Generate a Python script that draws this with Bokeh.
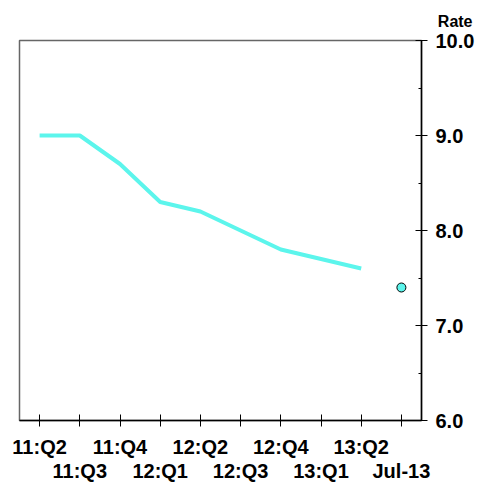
from bokeh.plotting import figure
from bokeh.models import LinearAxis, FixedTicker, Range1d, Title
from bokeh.embed import file_html
from bokeh.resources import INLINE

periods = ["11:Q2", "11:Q3", "11:Q4", "12:Q1", "12:Q2", "12:Q3", "12:Q4", "13:Q1", "13:Q2", "Jul-13"]
rate_quarterly = [9.0, 9.0, 8.7, 8.3, 8.2, 8.0, 7.8, 7.7, 7.6]
rate_latest = [7.4]
y_ticks = [6.0, 7.0, 8.0, 9.0, 10.0]
y_minor = [6.5, 7.5, 8.5, 9.5]

xs = list(range(len(periods)))
FONT = "Liberation Sans"
COLOR = "#5CF5EC"

p = figure(width=479, height=484, frame_width=402, output_backend="svg", toolbar_location=None,
           x_range=Range1d(-0.5, len(periods) - 0.5), y_range=Range1d(6.0, 10.0),
           x_axis_location=None, y_axis_location="right",
           min_border_left=19, min_border_top=40, min_border_right=58, min_border_bottom=0)
p.grid.visible = False
p.outline_line_color = "#666666"
p.outline_line_width = 1.5
p.background_fill_color = "white"
p.border_fill_color = "white"

p.add_layout(Title(text="Rate", align="right", offset=-51, standoff=21,
                   text_font=FONT, text_font_style="bold", text_font_size="16px",
                   text_color="black"), "above")

ya = p.yaxis[0]
ya.ticker = FixedTicker(ticks=y_ticks, minor_ticks=y_minor)
ya.major_label_overrides = {t: f"{t:.1f}" for t in y_ticks}
ya.major_tick_in = 6
ya.major_tick_out = 6
ya.minor_tick_in = 3
ya.minor_tick_out = 0
ya.axis_line_color = "black"
ya.axis_line_width = 1.5
ya.major_tick_line_color = "black"
ya.minor_tick_line_color = "black"
ya.major_label_text_font = FONT
ya.major_label_text_font_style = "bold"
ya.major_label_text_font_size = "20px"
ya.major_label_text_color = "black"
ya.major_label_standoff = 8

# two staggered rows of tick labels
two_rows = {i: (periods[i] + "\n" if i % 2 == 0 else "\n" + periods[i]) for i in xs}

xa = LinearAxis(ticker=FixedTicker(ticks=xs, minor_ticks=[]), major_label_overrides=two_rows)
xa.major_tick_in = 6
xa.major_tick_out = 6
xa.axis_line_color = "black"
xa.axis_line_width = 1.5
xa.major_label_standoff = 9
xa.major_label_text_font = FONT
xa.major_label_text_font_style = "bold"
xa.major_label_text_font_size = "20px"
xa.major_label_text_line_height = 1.1
xa.major_label_text_color = "black"
xa.minor_tick_line_color = None
p.add_layout(xa, "below")

p.line(xs[:len(rate_quarterly)], rate_quarterly, line_color=COLOR, line_width=4)
p.scatter(xs[len(rate_quarterly):], rate_latest, size=9, fill_color=COLOR,
          line_color="black", line_width=1)

open("out.html", "w").write(file_html(p, INLINE))
